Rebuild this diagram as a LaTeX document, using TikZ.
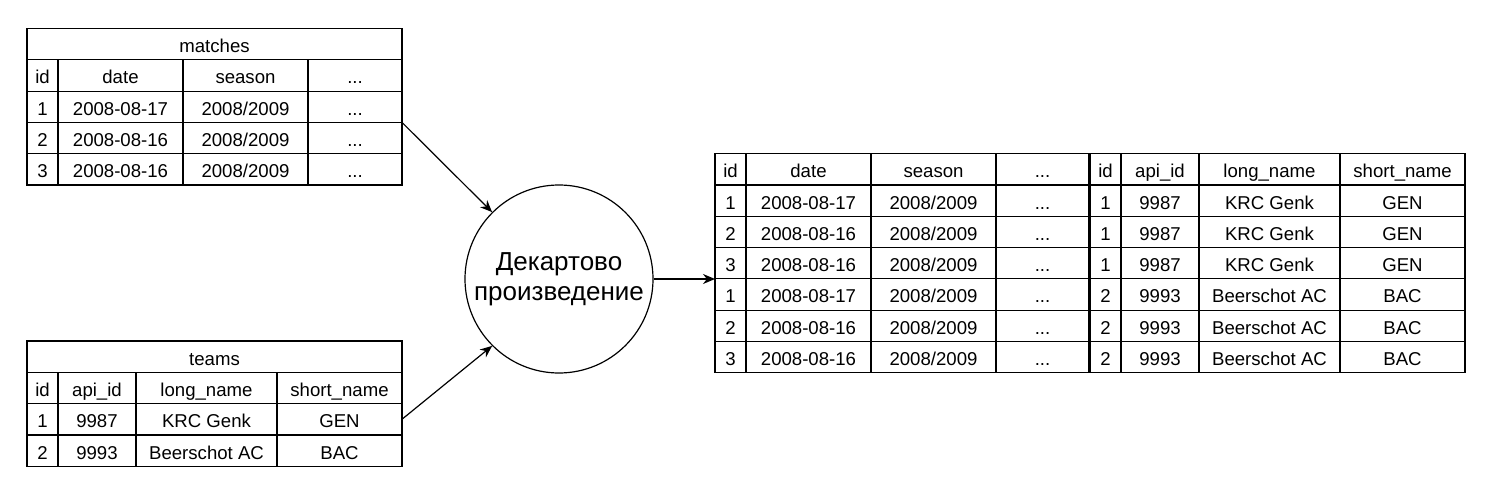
\documentclass[tikz,border=0pt]{standalone}
\usepackage{fontspec}
\setmainfont{Liberation Sans}
\usetikzlibrary{arrows.meta}
\newcommand{\morecols}{...}
\tikzset{
	cell/.style={draw, line width=1.2pt, minimum height=31.3pt, inner sep=0pt, outer sep=0pt, anchor=north west, text height=17pt, text depth=0pt, font=\fontsize{18.6}{20}\selectfont},
	arr/.style={line width=1.2pt, -{Stealth[length=12pt,width=10pt]}}
}
\begin{document}
\begin{tikzpicture}[x=1pt,y=-1pt]
	\useasboundingbox (0,0) rectangle (1492,498);
	% matches
	\node[cell, minimum width=375pt] (m-title) at (27,28.5) {matches};
	\foreach \y/\a/\b/\c/\d [count=\r] in {59.8/id/date/season/\morecols, 91.1/1/2008-08-17/{2008/2009}/\morecols, 122.4/2/2008-08-16/{2008/2009}/\morecols, 153.7/3/2008-08-16/{2008/2009}/\morecols} {
		\node[cell, minimum width=31pt] (m-\r-1) at (27,\y) {\a};
		\node[cell, minimum width=125pt] (m-\r-2) at (58,\y) {\b};
		\node[cell, minimum width=125pt] (m-\r-3) at (183,\y) {\c};
		\node[cell, minimum width=94pt] (m-\r-4) at (308,\y) {\d};
	}
	% teams
	\node[cell, minimum width=375pt] (t-title) at (27,341) {teams};
	\foreach \y/\a/\b/\c/\d [count=\r] in {372.3/id/api\_id/long\_name/short\_name, 403.6/1/9987/KRC Genk/GEN, 434.9/2/9993/Beerschot AC/BAC} {
		\node[cell, minimum width=31pt] (t-\r-1) at (27,\y) {\a};
		\node[cell, minimum width=78pt] (t-\r-2) at (58,\y) {\b};
		\node[cell, minimum width=141pt] (t-\r-3) at (136,\y) {\c};
		\node[cell, minimum width=125pt] (t-\r-4) at (277,\y) {\d};
	}
	% result
	\foreach \y/\a/\b/\c/\d/\e/\f/\g/\h [count=\r] in {
		153.6/id/date/season/\morecols/id/api\_id/long\_name/short\_name,
		184.9/1/2008-08-17/{2008/2009}/\morecols/1/9987/KRC Genk/GEN,
		216.2/2/2008-08-16/{2008/2009}/\morecols/1/9987/KRC Genk/GEN,
		247.5/3/2008-08-16/{2008/2009}/\morecols/1/9987/KRC Genk/GEN,
		278.8/1/2008-08-17/{2008/2009}/\morecols/2/9993/Beerschot AC/BAC,
		310.1/2/2008-08-16/{2008/2009}/\morecols/2/9993/Beerschot AC/BAC,
		341.4/3/2008-08-16/{2008/2009}/\morecols/2/9993/Beerschot AC/BAC} {
		\node[cell, minimum width=31pt] (r-\r-1) at (715,\y) {\a};
		\node[cell, minimum width=125pt] (r-\r-2) at (746,\y) {\b};
		\node[cell, minimum width=125pt] (r-\r-3) at (871,\y) {\c};
		\node[cell, minimum width=93pt] (r-\r-4) at (996,\y) {\d};
		\node[cell, minimum width=31pt] (r-\r-5) at (1090,\y) {\e};
		\node[cell, minimum width=78pt] (r-\r-6) at (1121,\y) {\f};
		\node[cell, minimum width=141pt] (r-\r-7) at (1199,\y) {\g};
		\node[cell, minimum width=125pt] (r-\r-8) at (1340,\y) {\h};
	}
	% operation
	\node[circle, draw, line width=1.2pt, minimum size=188pt, inner sep=0pt, align=center, font=\fontsize{26}{30}\selectfont] (cart) at (559,279) {Декартово\\произведение};
	\draw[arr] (m-2-4.south east) -- (cart.135);
	\draw[arr] (t-2-4.east) -- (cart.-135);
	\draw[arr] (cart.east) -- (cart.east -| r-4-1.west);
\end{tikzpicture}
\end{document}
